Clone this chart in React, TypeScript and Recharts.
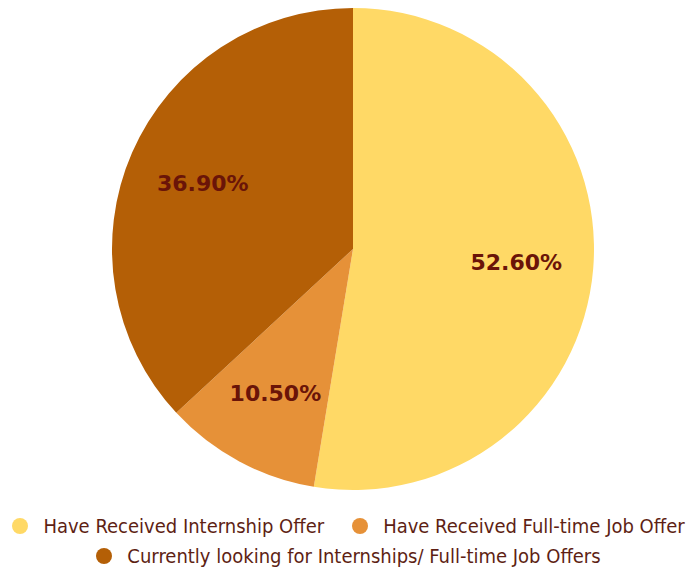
import { PieChart, Pie, Cell, Legend } from "recharts";

const categories = [
  "Have Received Internship Offer",
  "Have Received Full-time Job Offer",
  "Currently looking for Internships/ Full-time Job Offers",
];
const shares = [52.6, 10.5, 36.9];
const colors = ["#FFD966", "#E69138", "#B45F06"];

const data = categories.map((name, i) => ({ name, value: shares[i] }));

const RADIAN = Math.PI / 180;

const renderLabel = (props: any) => {
  const { cx, cy, midAngle, outerRadius, value } = props;
  const r = outerRadius * 0.68;
  const x = cx + r * Math.cos(-midAngle * RADIAN);
  const y = cy + r * Math.sin(-midAngle * RADIAN);
  return (
    <text
      x={x}
      y={y}
      textAnchor="middle"
      dominantBaseline="central"
      fill="#6a1408"
      fontSize={22}
      fontWeight="bold"
      fontFamily="DejaVu Sans"
    >
      {value.toFixed(2)}%
    </text>
  );
};

// legend rows in reference order: first two items, then the last one
const legendRows = [[0, 1], [2]];

const renderLegend = () => (
  <div style={{ width: 697, fontFamily: "DejaVu Sans Condensed", fontSize: 20, color: "#5e1f14" }}>
    {legendRows.map((row, ri) => (
      <div
        key={ri}
        style={{ display: "flex", justifyContent: "center", alignItems: "center", height: 30 }}
      >
        {row.map((i) => (
          <div
            key={categories[i]}
            style={{ display: "flex", alignItems: "center", margin: "0 14px", whiteSpace: "nowrap" }}
          >
            <span
              style={{
                width: 16,
                height: 16,
                borderRadius: 8,
                background: colors[i],
                marginRight: 15,
                display: "inline-block",
                flexShrink: 0,
              }}
            />
            <span>{categories[i]}</span>
          </div>
        ))}
      </div>
    ))}
  </div>
);

export default function App() {
  return (
    <div style={{ position: "absolute", left: 0, top: 0, background: "#fff" }}>
      <PieChart width={697} height={571} margin={{ top: 0, right: 0, bottom: 0, left: 0 }}>
        <Pie
          data={data}
          dataKey="value"
          nameKey="name"
          cx={353}
          cy={249}
          outerRadius={241}
          startAngle={90}
          endAngle={-270}
          stroke="none"
          label={renderLabel}
          labelLine={false}
          isAnimationActive={false}
        >
          {data.map((d, i) => (
            <Cell key={d.name} fill={colors[i]} />
          ))}
        </Pie>
        <Legend verticalAlign="bottom" content={renderLegend} />
      </PieChart>
    </div>
  );
}
